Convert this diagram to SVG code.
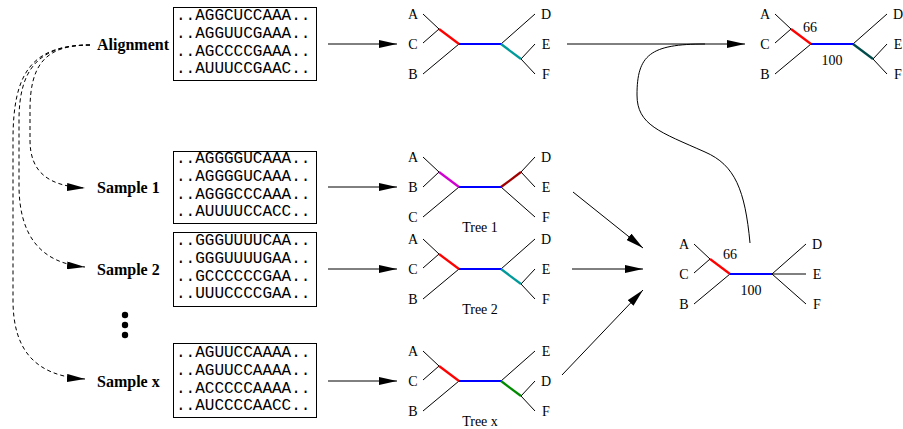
<svg xmlns="http://www.w3.org/2000/svg" width="903" height="429" viewBox="0 0 903 429">
<style>
.bg{fill:#ffffff}
.ln{stroke:#000;stroke-width:1;fill:none}
.dash{stroke:#000;stroke-width:1;fill:none;stroke-dasharray:4,3}
.box{fill:#fff;stroke:#000;stroke-width:1}
.seq{font-family:"Liberation Mono","Courier New",monospace;font-size:16px;fill:#000}
.lbl{font-family:"Liberation Serif","Times New Roman",serif;font-size:16px;font-weight:bold;fill:#000}
.tl{font-family:"Liberation Serif","Times New Roman",serif;font-size:14px;fill:#000;text-anchor:middle}
.br{stroke:#000;stroke-width:1;fill:none}
.red{stroke:#ff0000;stroke-width:2.2;fill:none}
.blue{stroke:#0000ff;stroke-width:2.2;fill:none}
.teal{stroke:#009a9a;stroke-width:2.2;fill:none}
.dteal{stroke:#004a4a;stroke-width:2.2;fill:none}
.mag{stroke:#d000d0;stroke-width:2.2;fill:none}
.dred{stroke:#a00000;stroke-width:2.2;fill:none}
.grn{stroke:#008a00;stroke-width:2.2;fill:none}
</style>
<defs>
<marker id="ah" markerUnits="userSpaceOnUse" markerWidth="18" markerHeight="8" refX="18" refY="4" orient="auto">
<path d="M0,0 L18,4 L0,8 z" fill="#000" stroke="none"/>
</marker>
</defs>
<rect class="bg" x="0" y="0" width="903" height="429"/>

<g id="connectors">
<path class="dash" d="M90,45 C45,45 30,65 30,110 L30,140 C30,172 48,186 85,188" marker-end="url(#ah)"/>
<path class="dash" d="M90,45 C38,45 19,70 19,120 L19,185 C19,235 40,263 85,267" marker-end="url(#ah)"/>
<path class="dash" d="M90,45 C30,45 13,75 13,140 L13,300 C13,350 35,376 85,379" marker-end="url(#ah)"/>
<line class="ln" x1="328" y1="44" x2="397" y2="44" marker-end="url(#ah)"/>
<line class="ln" x1="328" y1="187" x2="397" y2="187" marker-end="url(#ah)"/>
<line class="ln" x1="328" y1="269" x2="397" y2="269" marker-end="url(#ah)"/>
<line class="ln" x1="328" y1="381" x2="397" y2="381" marker-end="url(#ah)"/>
<line class="ln" x1="567" y1="44" x2="745" y2="44" marker-end="url(#ah)"/>
<line class="ln" x1="573" y1="192" x2="643" y2="248" marker-end="url(#ah)"/>
<line class="ln" x1="572" y1="269" x2="643" y2="269" marker-end="url(#ah)"/>
<line class="ln" x1="562" y1="375" x2="643" y2="290" marker-end="url(#ah)"/>
<path class="ln" d="M750,243 C745,190 735,165 705,152 C660,132 637,125 637,95 C637,55 650,44 705,44"/>
</g>

<g id="alignment">
<text class="lbl" x="97" y="50">Alignment</text>
<rect class="box" x="173.5" y="7.5" width="143" height="73"/>
<text class="seq" x="176" y="20">..AGGCUCCAAA..</text>
<text class="seq" x="176" y="38">..AGGUUCGAAA..</text>
<text class="seq" x="176" y="55.5">..AGCCCCGAAA..</text>
<text class="seq" x="176" y="73">..AUUUCCGAAC..</text>
</g>

<g id="sample1">
<text class="lbl" x="97" y="193">Sample 1</text>
<rect class="box" x="173.5" y="151.5" width="143" height="72"/>
<text class="seq" x="176" y="163">..AGGGGUCAAA..</text>
<text class="seq" x="176" y="181">..AGGGGUCAAA..</text>
<text class="seq" x="176" y="198.5">..AGGGCCCAAA..</text>
<text class="seq" x="176" y="216">..AUUUUCCACC..</text>
</g>

<g id="sample2">
<text class="lbl" x="97" y="275">Sample 2</text>
<rect class="box" x="173.5" y="232.5" width="143" height="74"/>
<text class="seq" x="176" y="245">..GGGUUUUCAA..</text>
<text class="seq" x="176" y="263">..GGGUUUUGAA..</text>
<text class="seq" x="176" y="280.5">..GCCCCCCGAA..</text>
<text class="seq" x="176" y="298">..UUUCCCCGAA..</text>
</g>

<g id="dots">
<circle cx="125" cy="315" r="3.2" fill="#000"/>
<circle cx="125" cy="325" r="3.2" fill="#000"/>
<circle cx="125" cy="335" r="3.2" fill="#000"/>
</g>

<g id="samplex">
<text class="lbl" x="97" y="387">Sample x</text>
<rect class="box" x="173.5" y="343.5" width="143" height="74"/>
<text class="seq" x="176" y="357">..AGUUCCAAAA..</text>
<text class="seq" x="176" y="375">..AGUUCCAAAA..</text>
<text class="seq" x="176" y="392.5">..ACCCCCAAAA..</text>
<text class="seq" x="176" y="410">..AUCCCCAACC..</text>
</g>

<g id="tree-alignment" transform="translate(459,44)">
<path class="br" d="M-36,-30 L-20,-15 M-36,-1 L-20,-15 M0,0 L-36,30 M42,0 L76,-30 M62,15 L76,0 M62,15 L76,30"/>
<path class="red" d="M-20,-15 L0,0"/>
<path class="blue" d="M0,0 L42,0"/>
<path class="teal" d="M42,0 L62,15"/>
<text class="tl" x="-46" y="-25">A</text>
<text class="tl" x="-46" y="5">C</text>
<text class="tl" x="-46" y="35">B</text>
<text class="tl" x="87" y="-25">D</text>
<text class="tl" x="87" y="5">E</text>
<text class="tl" x="87" y="35">F</text>
</g>

<g id="tree1" transform="translate(459,187)">
<path class="br" d="M-36,-30 L-20,-15 M-36,0 L-20,-15 M0,0 L-36,30 M62,-15 L76,-30 M62,-15 L76,0 M42,0 L76,30"/>
<path class="mag" d="M-20,-15 L0,0"/>
<path class="blue" d="M0,0 L42,0"/>
<path class="dred" d="M42,0 L62,-15"/>
<text class="tl" x="-46" y="-25">A</text>
<text class="tl" x="-46" y="5">B</text>
<text class="tl" x="-46" y="35">C</text>
<text class="tl" x="87" y="-25">D</text>
<text class="tl" x="87" y="5">E</text>
<text class="tl" x="87" y="35">F</text>
<text class="tl" x="21" y="45">Tree 1</text>
</g>

<g id="tree2" transform="translate(459,269)">
<path class="br" d="M-36,-30 L-20,-15 M-36,-1 L-20,-15 M0,0 L-36,30 M42,0 L76,-30 M62,15 L76,0 M62,15 L76,30"/>
<path class="red" d="M-20,-15 L0,0"/>
<path class="blue" d="M0,0 L42,0"/>
<path class="teal" d="M42,0 L62,15"/>
<text class="tl" x="-46" y="-25">A</text>
<text class="tl" x="-46" y="5">C</text>
<text class="tl" x="-46" y="35">B</text>
<text class="tl" x="87" y="-25">D</text>
<text class="tl" x="87" y="5">E</text>
<text class="tl" x="87" y="35">F</text>
<text class="tl" x="21" y="45">Tree 2</text>
</g>

<g id="treex" transform="translate(459,381)">
<path class="br" d="M-36,-30 L-20,-15 M-36,-1 L-20,-15 M0,0 L-36,30 M42,0 L76,-30 M62,15 L76,0 M62,15 L76,30"/>
<path class="red" d="M-20,-15 L0,0"/>
<path class="blue" d="M0,0 L42,0"/>
<path class="grn" d="M42,0 L62,15"/>
<text class="tl" x="-46" y="-25">A</text>
<text class="tl" x="-46" y="5">C</text>
<text class="tl" x="-46" y="35">B</text>
<text class="tl" x="87" y="-25">E</text>
<text class="tl" x="87" y="5">D</text>
<text class="tl" x="87" y="35">F</text>
<text class="tl" x="21" y="45">Tree x</text>
</g>

<g id="consensus" transform="translate(730,274)">
<path class="br" d="M-36,-30 L-20,-15 M-36,-1 L-20,-15 M0,0 L-36,30 M42,0 L76,-30 M42,0 L76,0 M42,0 L76,30"/>
<path class="red" d="M-20,-15 L0,0"/>
<path class="blue" d="M0,0 L42,0"/>
<text class="tl" x="-46" y="-25">A</text>
<text class="tl" x="-46" y="5">C</text>
<text class="tl" x="-46" y="35">B</text>
<text class="tl" x="87" y="-25">D</text>
<text class="tl" x="87" y="5">E</text>
<text class="tl" x="87" y="35">F</text>
<text class="tl" x="0" y="-15">66</text>
<text class="tl" x="21" y="21">100</text>
</g>

<g id="final-tree" transform="translate(811,44)">
<path class="br" d="M-36,-30 L-20,-15 M-36,-1 L-20,-15 M0,0 L-36,30 M42,0 L76,-30 M62,15 L76,0 M62,15 L76,30"/>
<path class="red" d="M-20,-15 L0,0"/>
<path class="blue" d="M0,0 L42,0"/>
<path class="dteal" d="M42,0 L62,15"/>
<text class="tl" x="-46" y="-25">A</text>
<text class="tl" x="-46" y="5">C</text>
<text class="tl" x="-46" y="35">B</text>
<text class="tl" x="87" y="-25">D</text>
<text class="tl" x="87" y="5">E</text>
<text class="tl" x="87" y="35">F</text>
<text class="tl" x="-1" y="-12">66</text>
<text class="tl" x="21" y="21">100</text>
</g>
</svg>
